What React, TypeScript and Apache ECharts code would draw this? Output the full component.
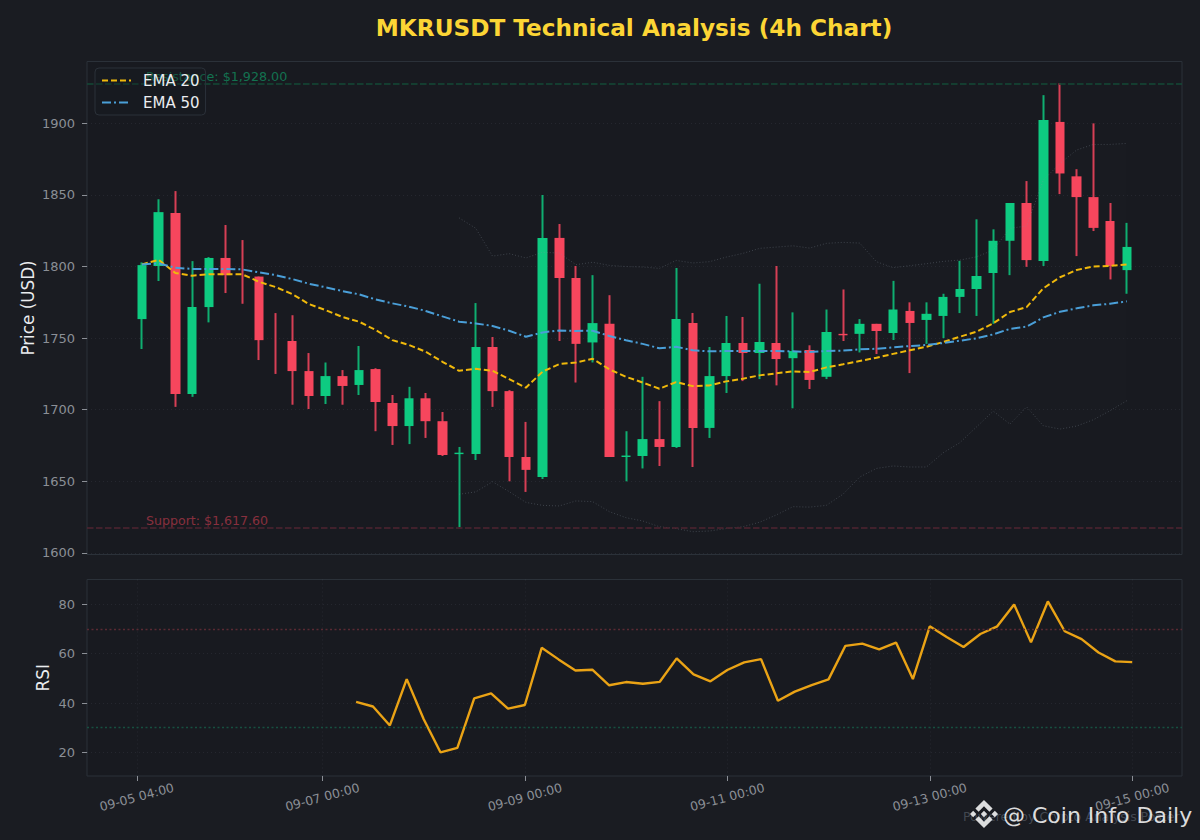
import React, { useEffect, useRef } from "react";
import * as echarts from "echarts";

const opens = [1763.3,1800.4,1837.4,1711,1771.7,1806,1794.6,1793,1748.6,1748,1727,1709.6,1723.5,1717.3,1728.4,1704.7,1688.6,1708,1692,1669,1669,1743.8,1713,1667,1653,1820,1792,1747,1760,1667,1667.7,1679.5,1674,1760.6,1687.3,1723.5,1746.6,1739.6,1746.6,1736,1741.7,1723,1753,1753,1760,1753.6,1769,1762.7,1765.5,1778.8,1784.3,1795.5,1818,1844.4,1803.8,1901,1863,1848.5,1831.8,1797.5];
const closes = [1801,1838,1711,1771.7,1806,1794,1794.6,1748.6,1748.6,1727,1709.6,1723.5,1716.6,1727.7,1705.4,1688.6,1708,1692,1668.4,1670,1743.8,1713,1667,1658,1820,1792,1746,1760.5,1667,1668,1679.5,1674,1763.4,1687.3,1723.5,1746.6,1739.6,1747.3,1735.4,1741,1720.8,1754.3,1752,1760,1755,1770,1760.6,1767,1778.8,1784.3,1793.4,1818,1844.4,1804.5,1902.3,1865,1848.5,1827,1800.4,1813.7];
const lows = [1742.4,1789.9,1702,1709,1761,1781.5,1774,1734.7,1725,1703.5,1700.5,1704,1703.5,1710.3,1685,1675.4,1676,1680.3,1667.7,1618,1664.9,1702,1650,1642.6,1651.6,1748,1719,1733,1667,1650,1659,1660.7,1673.3,1660,1680.3,1711.7,1720,1721.4,1717,1701,1714.5,1721.4,1748,1740,1738.9,1748.7,1725.6,1746,1750,1767.5,1765.5,1760,1794,1799.8,1800.4,1850.6,1807.3,1824.8,1791,1781];
const highs = [1802.9,1847,1852.7,1803.8,1806.6,1829,1818.5,1793,1767.5,1766,1739.6,1733,1727.7,1744.5,1729,1710.3,1716,1711.7,1698.4,1674,1774.5,1750.8,1713.7,1691.5,1850,1829.7,1800.4,1794,1780,1685,1723,1706,1799,1767.6,1743.8,1765.5,1764.8,1788,1800.4,1768,1745,1770,1784,1763.3,1760,1790,1775,1775,1781,1804,1833,1826,1844.4,1859.7,1919.7,1928,1868,1900,1844.4,1830.5];
const ema20 = [1801.5,1804.7,1795.5,1793.6,1794.6,1794.6,1794.6,1789.4,1785.7,1780.8,1773.8,1769.6,1764.8,1761.5,1755.7,1748.6,1745.2,1740.5,1733.5,1727.2,1728.6,1727.2,1721.4,1715.4,1726.6,1731.9,1733,1735.6,1728.2,1723,1719,1714.7,1719.3,1716.5,1717,1719.8,1721.7,1724,1725.4,1726.8,1726.3,1729.6,1731.7,1734,1736.3,1739,1741.5,1744,1747.3,1751,1754.5,1760.3,1768.2,1771.7,1784.8,1792.5,1797.6,1800.1,1800.4,1801.5];
const ema50 = [1801.5,1802.2,1799.2,1798.3,1798.3,1798.3,1798,1796,1794,1791.3,1788,1785.5,1782.9,1780.6,1777,1774.3,1772,1769,1765.2,1761.5,1760.3,1758.5,1755.2,1751,1754,1755.4,1755,1755.2,1751.5,1748.5,1746,1742.9,1744,1741.5,1740.8,1741,1741,1741,1741,1740.8,1740.3,1741,1741.3,1742.2,1742.6,1743.6,1744.5,1745.2,1746.6,1748.2,1749.9,1752.6,1756.5,1758,1764.5,1768.4,1770.8,1772.9,1774,1775.7];
const bbStart = 19;
const bbUpper = [1834,1826.7,1807.3,1809,1806,1810,1809.4,1801.3,1803,1800.8,1800,1799.7,1798.7,1804.3,1802.5,1803.4,1806.6,1809.2,1812.7,1813.6,1814.5,1812.9,1816.2,1816.9,1816.4,1803.4,1799.2,1800.6,1802,1803.6,1804.5,1806.8,1811.5,1826.7,1828.3,1860.4,1872,1881.4,1885.3,1885.3,1886];
const bbLower = [1641,1642.6,1649.7,1642.8,1635.3,1633.2,1632.8,1636.3,1635.8,1628.8,1624.6,1622.3,1618.3,1617,1614.8,1615.3,1617,1618.3,1621.4,1626.5,1632.3,1632,1633.2,1641,1653,1659,1660.7,1660,1660,1669.9,1677,1688,1699,1690,1702,1688.8,1686.5,1688.6,1693,1699.3,1706.3];
const rsiStart = 13;
const rsi = [40.5,38.6,30.9,49.7,33.5,20,21.8,41.9,43.9,37.7,39.2,62.4,57.7,53.2,53.5,47.2,48.5,47.8,48.6,58.1,51.6,48.8,53.4,56.5,57.8,40.9,44.6,47.3,49.6,63.2,64.1,61.8,64.5,49.7,71.1,66.8,62.7,68,71.1,80,64.6,81.2,69.1,65.9,60.5,56.9,56.6];
const xTicks = [0, 11, 23, 35, 47, 59];
const xTickLabels = ["09-05 04:00", "09-07 00:00", "09-09 00:00", "09-11 00:00", "09-13 00:00", "09-15 00:00"];
const priceTicks = [1600, 1650, 1700, 1750, 1800, 1850, 1900];
const rsiTicks = [20, 40, 60, 80];
const resistance = 1928;
const support = 1617.6;

const LOGO =
  "M16.624 13.9202l2.7175 2.7154-7.353 7.353-7.353-7.352 2.7175-2.7164 4.6355 4.6595 4.6356-4.6595zm4.6366-4.6366L24 12l-2.7154 2.7164L18.5682 12l2.6924-2.7164zm-9.272.001l2.7163 2.6914-2.7164 2.7174v-.001L9.2721 12l2.7164-2.7154zm-9.2722-.001L5.4088 12l-2.6914 2.6924L0 12l2.7164-2.7164zM11.9885.0115l7.353 7.329-2.7174 2.7154-4.6356-4.6356-4.6355 4.6595-2.7174-2.7154 7.353-7.353z";
echarts.graphic.registerShape("binanceLogo", echarts.graphic.extendPath(LOGO, {}) as any);

const FONT = "DejaVu Sans";
const PAGE = "#1a1c22";
const PLOT = "#181a20";
const FRAME = "#2b3139";
const MUTED = "#8b8f96";
const LIGHT = "#eaecef";
const UP = "#0ecb81";
const DOWN = "#f6465d";
const UP_WICK = "#0fae70";
const DOWN_WICK = "#d63f55";
const BB_LINE = "rgba(132,142,156,0.35)";

export default function App() {
  const ref = useRef<HTMLDivElement>(null);
  useEffect(() => {
    const chart = echarts.init(ref.current!, undefined, { renderer: "svg" });
    const wicks = opens.map((o, i) =>
      closes[i] > o ? [i, lows[i], highs[i], lows[i], highs[i]] : [i, highs[i], lows[i], lows[i], highs[i]]
    );
    const bodies = opens
      .map((o, i) => [i, o, closes[i], Math.min(o, closes[i]), Math.max(o, closes[i])])
      .filter((d) => d[1] !== d[2]);
    const gridLine = { show: true, lineStyle: { color: "rgba(132,142,156,0.12)", type: [1, 3] as any, width: 1 } };
    const yCommon = {
      type: "value" as const,
      position: "left" as const,
      axisLine: { show: false, onZero: false },
      axisTick: { show: true, length: 5, lineStyle: { color: MUTED, width: 1 } },
      nameLocation: "middle" as const,
      nameRotate: 90,
      nameMoveOverlap: false,
      nameTextStyle: { color: LIGHT, fontSize: 16.8, fontFamily: FONT },
      splitLine: gridLine,
    };
    chart.setOption({
      animation: false,
      backgroundColor: PAGE,
      textStyle: { fontFamily: FONT },
      title: {
        text: "MKRUSDT Technical Analysis (4h Chart)",
        left: 634,
        textAlign: "center",
        top: 16,
        padding: 0,
        textStyle: { color: "#fcd535", fontSize: 23.2, fontWeight: "bold", fontFamily: FONT },
      },
      grid: [
        { left: 87, right: 18, top: 61.5, height: 493, show: true, backgroundColor: PLOT, borderColor: FRAME, borderWidth: 1 },
        { left: 87, right: 18, top: 579.5, height: 196.5, show: true, backgroundColor: PLOT, borderColor: FRAME, borderWidth: 1 },
      ],
      xAxis: [
        { type: "value", gridIndex: 0, min: -3.295, max: 62.31, show: false },
        {
          type: "value",
          gridIndex: 1,
          min: -2.95,
          max: 61.95,
          axisLine: { show: false, onZero: false },
          axisTick: { show: true, length: 5, customValues: xTicks, lineStyle: { color: MUTED } },
          axisLabel: {
            customValues: xTicks,
            color: MUTED,
            fontSize: 12.5,
            fontFamily: FONT,
            rotate: 15,
            align: "center",
            verticalAlign: "middle",
            margin: 21,
            formatter: (v: number) => xTickLabels[xTicks.indexOf(v)] ?? "",
          },
          splitLine: gridLine,
        },
      ],
      yAxis: [
        {
          ...yCommon,
          gridIndex: 0,
          min: 1598.9,
          max: 1943.2,
          name: "Price (USD)",
          nameGap: 51,
          axisTick: { ...yCommon.axisTick, customValues: priceTicks },
          axisLabel: { customValues: priceTicks, color: MUTED, fontSize: 13, fontFamily: FONT, margin: 12, formatter: (v: number) => String(v) },
        },
        {
          ...yCommon,
          gridIndex: 1,
          min: 10.4,
          max: 90.1,
          name: "RSI",
          nameGap: 36,
          axisTick: { ...yCommon.axisTick, customValues: rsiTicks },
          axisLabel: { customValues: rsiTicks, color: MUTED, fontSize: 13, fontFamily: FONT, margin: 12, formatter: (v: number) => String(v) },
        },
      ],
      legend: {
        left: 95,
        top: 68,
        orient: "vertical",
        data: ["EMA 20", "EMA 50"],
        itemWidth: 29,
        itemHeight: 16,
        itemGap: 7,
        padding: [5, 6, 5, 6],
        backgroundColor: "rgba(24,26,32,0.3)",
        borderColor: FRAME,
        borderWidth: 1,
        borderRadius: 4,
        itemStyle: { color: "transparent", borderColor: "transparent", borderWidth: 0 },
        textStyle: { color: LIGHT, fontSize: 15, fontFamily: FONT, padding: [0, 0, 0, 7] },
        z: 20,
      },
      graphic: [
        { type: "text", z: 1, x: 146, y: 76, style: { text: `Resistance: $${resistance.toLocaleString("en-US", { minimumFractionDigits: 2 })}`, fill: "rgba(14,203,129,0.5)", fontSize: 12.7, fontFamily: FONT, textVerticalAlign: "middle" } },
        { type: "text", z: 1, x: 146, y: 520, style: { text: `Support: $${support.toLocaleString("en-US", { minimumFractionDigits: 2 })}`, fill: "rgba(246,70,93,0.5)", fontSize: 12.6, fontFamily: FONT, textVerticalAlign: "middle" } },
        { type: "text", z: 30, x: 963, y: 816, style: { text: "Powered by Crypto Analysis Poster", fill: "rgba(132,142,156,0.4)", fontSize: 12.5, fontFamily: FONT, textVerticalAlign: "middle" } },
        { type: "binanceLogo", z: 31, x: 970, y: 800, scaleX: 28 / 24, scaleY: 28 / 24, style: { fill: "rgba(255,255,255,0.85)" } },
        { type: "text", z: 31, x: 1003, y: 815, style: { text: "@ Coin Info Daily", fill: "rgba(255,255,255,0.85)", fontSize: 22, fontFamily: FONT, textVerticalAlign: "middle" } },
      ],
      series: [
        {
          type: "custom",
          name: "BB Band",
          xAxisIndex: 0,
          yAxisIndex: 0,
          encode: { x: 0, y: 1 },
          silent: true,
          data: bbUpper.map((v, i) => [i + bbStart, v]),
          renderItem: (params: any, api: any) => {
            if (params.dataIndex !== 0) return null;
            const top = bbUpper.map((v, i) => api.coord([i + bbStart, v]));
            const bottom = bbLower.map((v, i) => api.coord([i + bbStart, v])).reverse();
            return { type: "polygon", shape: { points: [...top, ...bottom] }, style: { fill: "rgba(132,136,142,0.012)" } };
          },
        },
        {
          type: "line",
          name: "BB Lower",
          xAxisIndex: 0,
          yAxisIndex: 0,
          symbol: "none",
          lineStyle: { color: BB_LINE, width: 1, type: [1, 2] },
          data: bbLower.map((v, i) => [i + bbStart, v]),
          markLine: {
            silent: true,
            symbol: "none",
            label: { show: false },
            data: [
              { yAxis: resistance, lineStyle: { color: "#134a36", type: [6.5, 2.5], width: 1.5 } },
              { yAxis: support, lineStyle: { color: "#4f2430", type: [6.5, 2.5], width: 1.5 } },
            ],
          },
        },
        {
          type: "line",
          name: "BB Upper",
          xAxisIndex: 0,
          yAxisIndex: 0,
          symbol: "none",
          lineStyle: { color: BB_LINE, width: 1, type: [1, 2] },
          data: bbUpper.map((v, i) => [i + bbStart, v]),
        },
        {
          type: "candlestick",
          name: "Wicks",
          xAxisIndex: 0,
          yAxisIndex: 0,
          barWidth: 2.5,
          encode: { x: 0, y: [1, 2, 3, 4] },
          itemStyle: { color: UP_WICK, color0: DOWN_WICK, borderColor: UP_WICK, borderColor0: DOWN_WICK, borderWidth: 0 },
          data: wicks,
        },
        {
          type: "candlestick",
          name: "Bodies",
          xAxisIndex: 0,
          yAxisIndex: 0,
          barWidth: 10,
          encode: { x: 0, y: [1, 2, 3, 4] },
          itemStyle: { color: UP, color0: DOWN, borderColor: UP, borderColor0: DOWN, borderWidth: 0 },
          data: bodies,
        },
        {
          type: "line",
          name: "EMA 20",
          xAxisIndex: 0,
          yAxisIndex: 0,
          symbol: "none",
          z: 5,
          itemStyle: { color: "#f0b90b" },
          lineStyle: { color: "#f0b90b", width: 2, type: [6, 3] },
          data: ema20.map((v, i) => [i, v]),
        },
        {
          type: "line",
          name: "EMA 50",
          xAxisIndex: 0,
          yAxisIndex: 0,
          symbol: "none",
          z: 5,
          itemStyle: { color: "#4a9fd8" },
          lineStyle: { color: "#4a9fd8", width: 2, type: [9, 3, 2, 3] },
          data: ema50.map((v, i) => [i, v]),
        },
        {
          type: "line",
          name: "RSI",
          xAxisIndex: 1,
          yAxisIndex: 1,
          symbol: "none",
          lineStyle: { color: "#eaa315", width: 2.4 },
          data: rsi.map((v, i) => [i + rsiStart, v]),
          markLine: {
            silent: true,
            symbol: "none",
            label: { show: false },
            data: [
              { yAxis: 70, lineStyle: { color: "#5a2a33", type: [2, 2.5], width: 1.3 } },
              { yAxis: 30, lineStyle: { color: "#175040", type: [2, 2.5], width: 1.3 } },
            ],
          },
        },
      ],
    });
    return () => chart.dispose();
  }, []);
  return <div ref={ref} style={{ position: "fixed", left: 0, top: 0, width: 1200, height: 840 }} />;
}
